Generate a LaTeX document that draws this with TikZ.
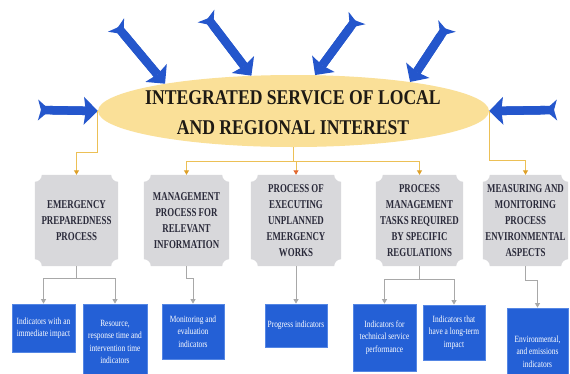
\documentclass[tikz,border=0pt]{standalone}
\usepackage{fontspec}
\usepackage{tikz}
\usetikzlibrary{arrows.meta,shapes.geometric,backgrounds}

\newfontfamily\titlefont{Liberation Serif}[FakeStretch=0.84]
\newfontfamily\procfont{Liberation Serif}[FakeStretch=0.74]
\newfontfamily\indfont{Liberation Serif}[FakeStretch=0.78]

\definecolor{arrowblue}{RGB}{36,86,204}
\definecolor{titlefill}{RGB}{250,224,152}
\definecolor{titletext}{RGB}{30,26,20}
\definecolor{feedline}{RGB}{236,192,86}
\definecolor{feedtip}{RGB}{222,160,40}
\definecolor{midtip}{RGB}{226,104,48}
\definecolor{procgray}{RGB}{216,216,219}
\definecolor{proctext}{RGB}{42,42,58}
\definecolor{linkgray}{RGB}{168,168,168}
\definecolor{indblue}{RGB}{36,96,214}
\definecolor{indedge}{RGB}{84,134,228}

\begin{document}
\begin{tikzpicture}[x=1pt, y=-1pt,
    inflow/.style={arrowblue, line width=8.5pt,
      {Stealth[reversed,length=12pt,width=21pt,inset=3pt,line width=0pt]}-{Stealth[length=14pt,width=28pt,inset=2pt,line width=0pt]},
      postaction={draw, -, shorten <=3pt, shorten >=12pt}},
    feed/.style={feedline, line width=0.9pt, -{Triangle[length=4.5pt,width=5pt,color=feedtip]}},
    link/.style={linkgray, line width=0.9pt, -{Triangle[length=4.5pt,width=5pt]}},
    proc/.style={minimum width=#1, minimum height=91pt, inner sep=0pt, align=center,
      text=proctext, font=\procfont\bfseries\fontsize{12}{16}\selectfont},
    ind/.style 2 args={draw=indedge, fill=indblue, line width=0.8pt, minimum width=#1,
      minimum height=#2, inner sep=0pt, align=center, text=white,
      font=\indfont\fontsize{9.5}{12.5}\selectfont}]
  \useasboundingbox (0,0) rectangle (570,373);

  % Central ellipse
  \node[ellipse, fill=titlefill, minimum width=391pt, minimum height=72pt, inner sep=0pt] (title) at (293.5,111) {};
  \node[align=center, text=titletext, font=\titlefont\bfseries\fontsize{21}{30}\selectfont] (titletext) at (293,113)
    {INTEGRATED SERVICE OF LOCAL\\AND REGIONAL INTEREST};

  % Incoming arrows
  \coordinate (w) at (38,110);
  \coordinate (e) at (557,110);
  \coordinate (n1) at (116,25);
  \coordinate (n2) at (206,16);
  \coordinate (n3) at (357,18);
  \coordinate (n4) at (447,26);
  \draw[inflow] (w) -- (title.west);
  \draw[inflow] (e) -- (title.east);
  \draw[inflow] (n1) -- (title.168);
  \draw[inflow] (n2) -- (title.140);
  \draw[inflow] (n3) -- (title.59);
  \draw[inflow] (n4) -- (title.14);

  % Processes
  \node[proc=83pt] (p1) at (76.5,220.5) {EMERGENCY\\PREPAREDNESS\\PROCESS};
  \node[proc=85pt] (p2) at (186.5,220.5) {MANAGEMENT\\PROCESS FOR\\RELEVANT\\INFORMATION};
  \node[proc=90pt] (p3) at (296,220.5) {PROCESS OF\\EXECUTING\\UNPLANNED\\EMERGENCY\\WORKS};
  \node[proc=87pt] (p4) at (419.5,220.5) {PROCESS\\MANAGEMENT\\TASKS REQUIRED\\BY SPECIFIC\\REGULATIONS};
  \node[proc=85pt] (p5) at (525.5,220.5) {MEASURING AND\\MONITORING\\PROCESS\\ENVIRONMENTAL\\ASPECTS};

  % Indicators
  \node[ind={63pt}{48pt}] (i1) at (43.5,328) {Indicators with an\\immediate impact};
  \node[ind={64pt}{76pt}] (i2) at (115,342) {Resource,\\response time and\\intervention time\\indicators};
  \node[ind={62pt}{55pt}] (i3) at (193,331.5) {Monitoring and\\evaluation\\indicators};
  \node[ind={62pt}{43pt}] (i4) at (296,325.5) {Progress indicators};
  \node[ind={63pt}{67pt}] (i5) at (384.5,337.5) {Indicators for\\technical service\\performance};
  \node[ind={62pt}{55pt}] (i6) at (454,332.5) {Indicators that\\have a long-term\\impact};
  \node[ind={61pt}{87pt}] (i7) at (537.5,351.5) {Environmental,\\and emissions\\indicators};

  % Gray boxes with hollow corners
  \begin{scope}[on background layer]
    \fill[white] (0,0) rectangle (570,373);
    \foreach \n in {p1,p2,p3,p4,p5}
      \fill[procgray] ([xshift=7pt]\n.north west) -- ([xshift=-7pt]\n.north east)
        arc[start angle=180, end angle=270, radius=7pt]
        -- ([yshift=7pt]\n.south east)
        arc[start angle=90, end angle=180, radius=7pt]
        -- ([xshift=7pt]\n.south west)
        arc[start angle=0, end angle=90, radius=7pt]
        -- ([yshift=-7pt]\n.north west)
        arc[start angle=270, end angle=360, radius=7pt]
        -- cycle;
  \end{scope}

  % Edges from the ellipse
  \coordinate (bus) at ([yshift=-14pt]title.south);
  \draw[feedline, line width=0.9pt] (title.south) -- (bus);
  \draw[feed] (title.west) -- ++(0,41) -| (p1.north);
  \draw[feed] (bus) -| (p2.north);
  \draw[feed, -{Triangle[length=4.5pt,width=5pt,color=midtip]}] (bus) -| (p3.north);
  \draw[feed] (bus) -| (p4.north);
  \draw[feed] (title.east) -- ++(0,49) -| (p5.north);

  % Edges to the indicators
  \draw[link] (p1.south) -- ++(0,12) coordinate (j1) -| (i1.north);
  \draw[link] (j1) -| (i2.north);
  \draw[link] (p2.south) -- ++(0,12) -| (i3.north);
  \draw[link] (p3.south) -- (i4.north);
  \draw[link] (p4.south) -- ++(0,13) coordinate (j4) -| (i5.north);
  \draw[link] (j4) -| (i6.north);
  \draw[link] (p5.south) -- ++(0,14) -| (i7.north);
\end{tikzpicture}
\end{document}
